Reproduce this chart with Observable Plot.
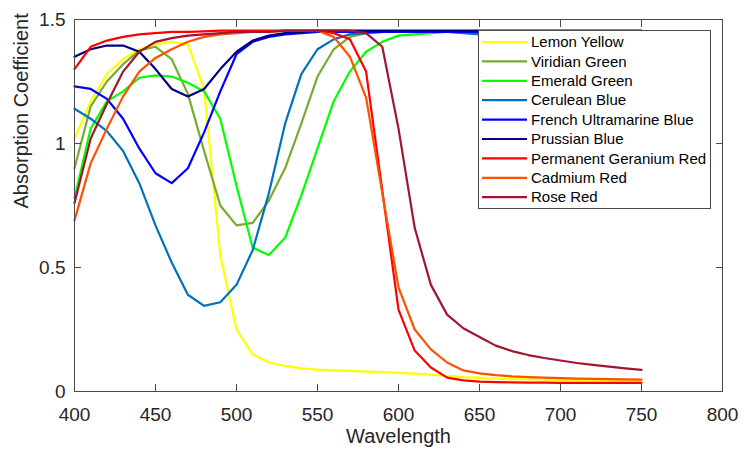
<!DOCTYPE html>
<html><head><meta charset="utf-8">
<script src="https://cdn.jsdelivr.net/npm/d3@7"></script>
<script src="https://cdn.jsdelivr.net/npm/@observablehq/plot@0.6"></script>
<style>body{margin:0;background:#fff}#chart{position:relative;width:742px;height:452px}</style>
</head><body><div id="chart"></div>
<script>
const wavelengths = [400,410,420,430,440,450,460,470,480,490,500,510,520,530,540,550,560,570,580,590,600,610,620,630,640,650,660,670,680,690,700,710,720,730,740,750];
const seriesNames = ["Lemon Yellow","Viridian Green","Emerald Green","Cerulean Blue","French Ultramarine Blue","Prussian Blue","Permanent Geranium Red","Cadmium Red","Rose Red"];
const seriesColors = ["#FFFF00","#77AC30","#00FF00","#0072BD","#0000FF","#000080","#FF0000","#FF5000","#A2142F"];
const lemonYellow = [1.02,1.17,1.28,1.34,1.38,1.40,1.41,1.40,1.22,0.55,0.25,0.15,0.117,0.103,0.093,0.088,0.085,0.083,0.080,0.078,0.075,0.072,0.068,0.063,0.058,0.055,0.052,0.050,0.049,0.048,0.047,0.046,0.045,0.045,0.044,0.044];
const viridianGreen = [0.90,1.15,1.25,1.32,1.375,1.39,1.34,1.20,0.97,0.75,0.67,0.68,0.77,0.90,1.08,1.27,1.38,1.43,1.445,1.45,1.45,1.45,1.45,1.45,1.45,1.45,1.45,1.45,1.45,1.45,1.45,1.45,1.45,1.45,1.45,1.45];
const emeraldGreen = [0.78,1.06,1.17,1.21,1.265,1.275,1.27,1.245,1.21,1.10,0.83,0.58,0.55,0.62,0.79,0.98,1.17,1.29,1.37,1.41,1.435,1.44,1.445,1.45,1.45,1.45,1.45,1.45,1.45,1.45,1.45,1.45,1.45,1.45,1.45,1.45];
const ceruleanBlue = [1.14,1.10,1.05,0.97,0.84,0.67,0.52,0.39,0.345,0.36,0.43,0.57,0.80,1.08,1.28,1.38,1.42,1.44,1.445,1.45,1.45,1.45,1.45,1.45,1.445,1.44,1.44,1.435,1.435,1.43,1.43,1.43,1.425,1.425,1.42,1.42];
const frenchUltramarineBlue = [1.23,1.22,1.18,1.10,0.98,0.88,0.84,0.90,1.045,1.21,1.36,1.41,1.43,1.44,1.445,1.45,1.45,1.45,1.45,1.45,1.45,1.45,1.45,1.45,1.45,1.45,1.45,1.45,1.45,1.45,1.45,1.45,1.45,1.45,1.45,1.45];
const prussianBlue = [1.35,1.38,1.395,1.395,1.37,1.30,1.22,1.19,1.22,1.30,1.37,1.415,1.435,1.445,1.45,1.455,1.455,1.455,1.455,1.455,1.455,1.455,1.455,1.455,1.455,1.455,1.455,1.455,1.455,1.455,1.455,1.455,1.455,1.455,1.455,1.455];
const permanentGeraniumRed = [1.30,1.39,1.415,1.43,1.44,1.445,1.45,1.45,1.452,1.455,1.455,1.455,1.455,1.455,1.455,1.455,1.445,1.42,1.29,0.81,0.33,0.165,0.097,0.056,0.045,0.040,0.038,0.037,0.036,0.036,0.035,0.035,0.035,0.035,0.035,0.035];
const cadmiumRed = [0.69,0.92,1.06,1.19,1.29,1.345,1.38,1.41,1.43,1.44,1.445,1.45,1.45,1.455,1.455,1.455,1.43,1.35,1.185,0.80,0.42,0.25,0.17,0.117,0.085,0.073,0.066,0.061,0.058,0.056,0.054,0.052,0.051,0.050,0.049,0.048];
const roseRed = [0.76,1.02,1.16,1.29,1.37,1.41,1.425,1.435,1.44,1.445,1.45,1.45,1.45,1.455,1.455,1.455,1.455,1.455,1.445,1.39,1.06,0.66,0.43,0.31,0.255,0.22,0.185,0.163,0.147,0.135,0.125,0.115,0.107,0.100,0.093,0.087];
const seriesValues = [lemonYellow,viridianGreen,emeraldGreen,ceruleanBlue,frenchUltramarineBlue,prussianBlue,permanentGeraniumRed,cadmiumRed,roseRed];
const xTicks = [400,450,500,550,600,650,700,750,800];
const yTicks = [0,0.5,1,1.5];
const yTickLabels = ["0","0.5","1","1.5"];
const xLabel = "Wavelength";
const yLabel = "Absorption Coefficient";

const data = [];
seriesValues.forEach((vals, si) => vals.forEach((v, i) => data.push({series: seriesNames[si], w: wavelengths[i], a: v})));

const font = "'Liberation Sans', Arial, Helvetica, sans-serif";
const axisColor = "#262626";
const lineColor = "#4a4a4a";
const T = 7;

const plot = Plot.plot({
  width: 742, height: 452,
  marginLeft: 74, marginRight: 20, marginTop: 19, marginBottom: 61,
  style: {fontFamily: font, fontSize: "19px", color: axisColor, background: "white"},
  x: {domain: [400, 800]},
  y: {domain: [0, 1.5]},
  color: {domain: seriesNames, range: seriesColors},
  marks: [
    Plot.line(data, {x: "w", y: "a", z: "series", stroke: "series", strokeWidth: 2.2}),
    Plot.frame({stroke: lineColor, strokeWidth: 1}),
    Plot.axisX(xTicks, {anchor: "bottom", tickSize: 0, tickPadding: 16, fill: axisColor, label: null}),
    Plot.axisX(xTicks, {anchor: "bottom", tickSize: T, dy: -T, stroke: lineColor, fill: "none", label: null}),
    Plot.axisX(xTicks, {anchor: "top", tickSize: T, dy: T, stroke: lineColor, fill: "none", label: null}),
    Plot.axisY(yTicks, {anchor: "left", tickSize: 0, tickPadding: 9, fill: axisColor, label: null, tickFormat: (d) => yTickLabels[yTicks.indexOf(d)]}),
    Plot.axisY(yTicks, {anchor: "left", tickSize: T, dx: T, stroke: lineColor, fill: "none", label: null}),
    Plot.axisY(yTicks, {anchor: "right", tickSize: T, dx: -T, stroke: lineColor, fill: "none", label: null}),
    Plot.text([xLabel], {frameAnchor: "bottom", dy: 51, fontSize: 20, fill: axisColor}),
    Plot.text([yLabel], {frameAnchor: "left", rotate: -90, dx: -53, dy: 3, fontSize: 20, fill: axisColor})
  ]
});

const svg = d3.select(plot);
const lg = svg.append("g").attr("font-family", font).attr("font-size", 15).attr("text-anchor", "start");
lg.append("rect").attr("x", 478.5).attr("y", 30.5).attr("width", 232).attr("height", 178)
  .attr("fill", "white").attr("stroke", lineColor).attr("stroke-width", 1);
seriesNames.forEach((name, i) => {
  const cy = 42 + i * 19.4;
  lg.append("line").attr("x1", 482).attr("x2", 527).attr("y1", cy).attr("y2", cy)
    .attr("stroke", seriesColors[i]).attr("stroke-width", 2.2);
  lg.append("text").attr("x", 531).attr("y", cy).attr("dy", "0.35em").attr("text-anchor", "start").attr("fill", "#000").text(name);
});

document.getElementById("chart").appendChild(plot);
</script>
</body></html>
